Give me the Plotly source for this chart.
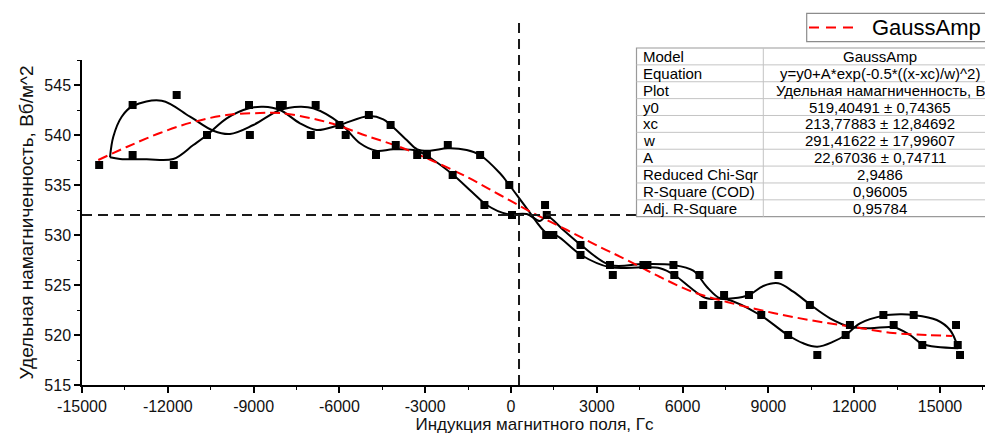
import plotly.graph_objects as go

# ---------------- data ----------------
marker_x = [-14400, -13230, -13230, -11690, -11790, -10630, -9160, -9130, -8080, -7980,
            -7000, -6830, -6000, -5780, -4970, -4720, -4210, -4030, -3280, -2940,
            -2210, -2040, -1080, -930, -60, 35, 1190, 1250, 1230, 1480,
            2430, 2430, 3460, 3560, 4630, 4770, 5680, 5710, 6590, 6720,
            7250, 7450, 8320, 8750, 9350, 9690, 10450, 10710, 11700, 11850,
            13020, 13380, 14080, 14380, 15560, 15620, 15700]
marker_y = [537, 543, 538, 544, 537, 540, 543, 540, 543, 543,
            540, 543, 541, 540, 542, 538, 541, 539, 538, 538,
            539, 536, 538, 533, 535, 532, 533, 532, 530, 530,
            529, 528, 527, 526, 527, 527, 527, 526, 526, 523,
            523, 524, 524, 522, 526, 520, 523, 518, 520, 521,
            522, 521, 522, 519, 521, 519, 518]

# smooth black curve, branch 1
branch1_x = [-14021, -13906, -13612, -13227, -12213, -11224, -10409, -9825, -9010, -8077,
             -7378, -6913, -5979, -5280, -4720, -4115, -3297, -2717, -2017, -1318,
             -850, -150, 549, 1014, 1248, 1829, 2448, 3462, 4626, 5675,
             6374, 6843, 7308, 7773, 8322, 8822, 9346, 9871, 10479, 11154,
             11853, 12552, 13381, 13951, 14381, 15640]
branch1_y = [537.77, 539.83, 541.83, 542.9, 543.43, 541.83, 540.43, 540.1, 541.0, 542.5,
             542.83, 542.67, 541.17, 539.17, 538.43, 538.57, 538.43, 537.5, 536.0, 534.17,
             533.0, 532.1, 532.1, 531.4, 531.9, 530.5, 529.0, 527.0, 527.1, 527.0,
             526.43, 524.83, 523.67, 523.67, 524.0, 524.9, 525.17, 524.33, 523.0, 521.67,
             520.83, 520.67, 520.77, 520.0, 519.1, 518.67]

# smooth black curve, branch 2
branch2_x = [-14021, -13671, -12738, -11808, -11108, -10629, -9941, -9161, -8661, -8077,
             -7378, -6794, -6003, -4965, -4465, -4206, -3647, -3276, -2832, -2213,
             -1549, -1084, -385, -59, 549, 1248, 1598, 2448, 3462, 4626,
             5210, 5710, 6374, 6843, 7542, 8706, 9675, 10220, 10710, 11269,
             11703, 12203, 13017, 13601, 14080, 14885, 15350, 15640]
branch2_y = [537.77, 537.6, 537.57, 537.6, 539.0, 540.0, 541.67, 542.67, 542.83, 542.5,
             541.17, 540.5, 541.0, 541.9, 541.57, 541.0, 539.5, 538.57, 538.43, 538.67,
             538.5, 538.0, 536.17, 535.0, 532.67, 530.17, 529.93, 528.0, 526.77, 526.77,
             526.67, 526.0, 524.5, 523.67, 523.57, 522.0, 520.0, 519.17, 518.83, 519.33,
             520.0, 521.17, 521.93, 522.07, 522.0, 521.5, 520.5, 518.67]

# GaussAmp fit curve
fit_x = [-14430, -13437, -12273, -11108, -9941, -8776, -8077, -7028, -6094, -5035,
         -3881, -2727, -1538, -385, 769, 1958, 3112, 4056, 5210, 6364,
         7552, 8706, 9860, 11049, 12203, 13357, 14545, 15420]
fit_y = [537.5, 538.8, 540.2, 541.3, 542.0, 542.2, 542.2, 541.7, 541.0, 539.9,
         538.8, 537.4, 535.8, 534.0, 532.2, 530.5, 528.8, 527.5, 525.8, 524.3,
         523.3, 522.5, 521.8, 521.2, 520.7, 520.2, 520.0, 519.9]

ref_x = 280      # vertical dashed line
ref_y = 532      # horizontal dashed line

x_tick_vals = [-15000, -12000, -9000, -6000, -3000, 0, 3000, 6000, 9000, 12000, 15000]
x_tick_text = ["-15000", "-12000", "-9000", "-6000", "-3000", "0", "3000", "6000", "9000", "12000", "15000"]
y_tick_vals = [515, 520, 525, 530, 535, 540, 545]
y_tick_text = ["515", "520", "525", "530", "535", "540", "545"]

table_labels = ["Model", "Equation", "Plot", "y0", "xc", "w", "A",
                "Reduced Chi-Sqr", "R-Square (COD)", "Adj. R-Square"]
table_values = ["GaussAmp", "y=y0+A*exp(-0.5*((x-xc)/w)^2)", "Удельная намагниченность, В",
                "519,40491 ± 0,74365", "213,77883 ± 12,84692", "291,41622 ± 17,99607",
                "22,67036 ± 0,74711", "2,9486", "0,96005", "0,95784"]
legend_label = "GaussAmp"

x_title = "Индукция магнитного поля, Гс"
y_title = "Удельная намагниченность, Вб/м^2"

# ---------------- figure ----------------
FONT = "Liberation Sans, Arial, sans-serif"
OFF = 8                      # default body margin of the html page
W, H = 993 - OFF, 434 - OFF
ML, MR, MT, MB = 82 - OFF, 6, 60 - OFF, 49
PW, PH = W - ML - MR, H - MT - MB


def px_x(px):
    """window pixel -> paper fraction"""
    return (px - OFF - ML) / PW


def px_y(py):
    return (H - MB - (py - OFF)) / PH


fig = go.Figure()
for bx, by in ((branch1_x, branch1_y), (branch2_x, branch2_y)):
    fig.add_trace(go.Scatter(x=bx, y=by, mode="lines",
                             line=dict(color="black", width=2, shape="spline", smoothing=1.0),
                             hoverinfo="skip", showlegend=False))
fig.add_trace(go.Scatter(x=fit_x, y=fit_y, mode="lines", name=legend_label,
                         line=dict(color="#ff0000", width=2, dash="10px,5px", shape="spline"),
                         showlegend=False))
fig.add_trace(go.Scatter(x=marker_x, y=marker_y, mode="markers",
                         marker=dict(symbol="square", size=8, color="black"),
                         showlegend=False))

shapes = []
dash_style = dict(color="#1a1a1a", width=2, dash="10px,6px")
shapes.append(dict(type="line", xref="x", yref="paper", x0=ref_x, x1=ref_x,
                   y0=0, y1=px_y(20), line=dash_style, layer="above"))
shapes.append(dict(type="line", xref="paper", yref="y", x0=0, x1=1,
                   y0=ref_y, y1=ref_y, line=dash_style, layer="above"))

# fit table
t_left, t_mid, t_right = 636.5, 763.3, 1000
t_top, t_bot = 48.0, 216.7
n = len(table_labels)
rh = (t_bot - t_top) / n
shapes.append(dict(type="rect", xref="paper", yref="paper",
                   x0=px_x(t_left), x1=px_x(t_right), y0=px_y(t_bot), y1=px_y(t_top),
                   fillcolor="white", line=dict(color="#9a9a9a", width=1.2), layer="above"))
for i in range(1, n):
    yy = px_y(t_top + i * rh)
    shapes.append(dict(type="line", xref="paper", yref="paper",
                       x0=px_x(t_left), x1=px_x(t_right), y0=yy, y1=yy,
                       line=dict(color="#c4c4c4", width=1), layer="above"))
shapes.append(dict(type="line", xref="paper", yref="paper",
                   x0=px_x(t_mid), x1=px_x(t_mid), y0=px_y(t_bot), y1=px_y(t_top),
                   line=dict(color="#c4c4c4", width=1), layer="above"))

annotations = []
for i, (lab, val) in enumerate(zip(table_labels, table_values)):
    yc = px_y(t_top + (i + 0.5) * rh)
    annotations.append(dict(xref="paper", yref="paper", x=px_x(641), y=yc,
                            xanchor="left", yanchor="middle", text=lab, showarrow=False,
                            font=dict(family=FONT, size=15, color="black")))
    annotations.append(dict(xref="paper", yref="paper", x=px_x(880), y=yc,
                            xanchor="center", yanchor="middle", text=val, showarrow=False,
                            font=dict(family=FONT, size=15, color="black")))

# legend box
shapes.append(dict(type="rect", xref="paper", yref="paper",
                   x0=px_x(806.7), x1=px_x(1005), y0=px_y(41.7), y1=px_y(13.3),
                   fillcolor="white", line=dict(color="#8c8c8c", width=1.2), layer="above"))
shapes.append(dict(type="line", xref="paper", yref="paper",
                   x0=px_x(809), x1=px_x(857), y0=px_y(27.5), y1=px_y(27.5),
                   line=dict(color="#ff0000", width=2, dash="10px,7px"), layer="above"))
annotations.append(dict(xref="paper", yref="paper", x=px_x(870), y=px_y(27.5),
                        xanchor="left", yanchor="middle", text=legend_label, showarrow=False,
                        font=dict(family=FONT, size=22, color="black")))

axis_common = dict(showline=True, linecolor="black", linewidth=1.5, showgrid=False,
                   zeroline=False, ticks="outside", ticklen=6, tickwidth=1.5,
                   tickcolor="black", tickfont=dict(family=FONT, size=16, color="#111"),
                   tickmode="array")

fig.update_layout(
    width=W, height=H, margin=dict(l=ML, r=MR, t=MT, b=MB, autoexpand=False),
    paper_bgcolor="white", plot_bgcolor="white", showlegend=False,
    shapes=shapes, annotations=annotations,
    xaxis=dict(range=[-15000, 16643], tickvals=x_tick_vals, ticktext=x_tick_text,
               minor=dict(ticks="outside", ticklen=3, tickwidth=1.2, tickcolor="black",
                          tick0=-15000, dtick=1500, showgrid=False),
               title=dict(text=x_title, font=dict(family=FONT, size=17, color="#111"), standoff=2),
               **axis_common),
    yaxis=dict(range=[515, 547.5], tickvals=y_tick_vals, ticktext=y_tick_text,
               minor=dict(ticks="outside", ticklen=3, tickwidth=1.2, tickcolor="black",
                          tick0=515, dtick=2.5, showgrid=False),
               title=dict(text=y_title, font=dict(family=FONT, size=19, color="#111"), standoff=6),
               **axis_common),
)

fig.write_html("out.html")
